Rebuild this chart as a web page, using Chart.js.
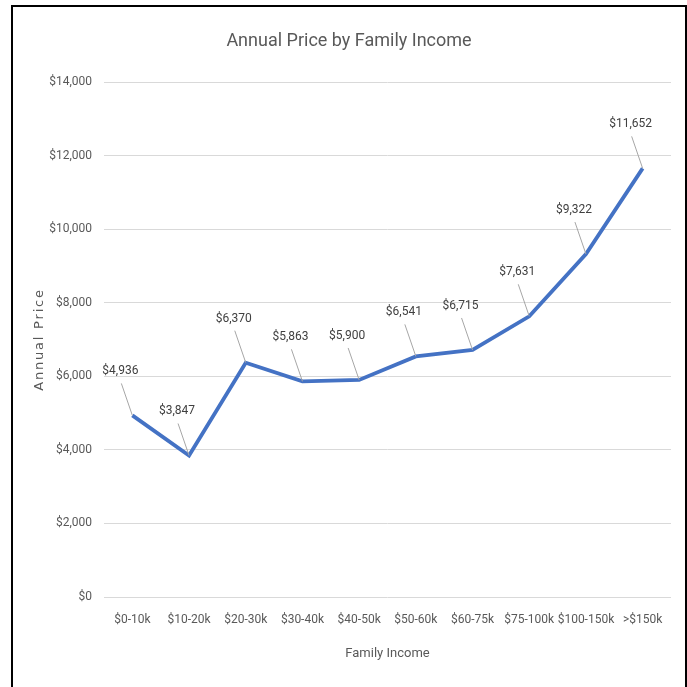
<!DOCTYPE html>
<html>
<head>
<meta charset="utf-8">
<script src="https://cdn.jsdelivr.net/npm/chart.js@4.4.1/dist/chart.umd.min.js"></script>
<style>
  html, body { margin: 0; padding: 0; background: #ffffff; }
  #frame {
    position: absolute; left: 11px; top: 5px;
    width: 672px; height: 682px;
    border: 2px solid #000; border-bottom: none;
    background: #fff;
  }
  #wrap { position: absolute; left: 0; top: 0; width: 672px; height: 680px; }
</style>
</head>
<body>
<div id="frame"><div id="wrap"><canvas id="c"></canvas></div></div>
<script>
const categories = ["$0-10k", "$10-20k", "$20-30k", "$30-40k", "$40-50k", "$50-60k", "$60-75k", "$75-100k", "$100-150k", ">$150k"];
const annualPrice = [4936, 3847, 6370, 5863, 5900, 6541, 6715, 7631, 9322, 11652];
const yTicks = [0, 2000, 4000, 6000, 8000, 10000, 12000, 14000];
const chartTitle = 'Annual Price by Family Income';

const narrow = "'Liberation Sans Narrow', 'Roboto', sans-serif";
const fmt = v => '$' + Number(v).toLocaleString('en-US');

const labelPlugin = {
  id: 'leaderLabels',
  afterDatasetsDraw(chart) {
    const ctx = chart.ctx;
    const meta = chart.getDatasetMeta(0);
    const data = chart.data.datasets[0].data;
    ctx.save();
    meta.data.forEach((pt, i) => {
      const lx = pt.x - 12, ly = pt.y - 44;
      ctx.strokeStyle = '#a6a6a6';
      ctx.lineWidth = 1;
      ctx.beginPath();
      ctx.moveTo(lx + 1, ly + 12);
      ctx.lineTo(pt.x, pt.y);
      ctx.stroke();
      ctx.fillStyle = '#404040';
      ctx.font = "12px " + narrow;
      ctx.textAlign = 'center';
      ctx.textBaseline = 'middle';
      ctx.fillText(fmt(data[i]), lx, ly);
    });
    ctx.restore();
  },
  afterDraw(chart) {
    const ctx = chart.ctx;
    const a = chart.chartArea;
    ctx.save();
    ctx.fillStyle = '#595959';
    ctx.textAlign = 'center';
    ctx.textBaseline = 'middle';
    ctx.font = "18px " + narrow;
    ctx.fillText(chartTitle, chart.width / 2, 34);
    ctx.translate(27, (a.top + a.bottom) / 2);
    ctx.rotate(-Math.PI / 2);
    ctx.font = "13px 'DejaVu Sans', sans-serif";
    try { ctx.letterSpacing = '1.8px'; } catch (e) {}
    ctx.fillText('Annual Price', 0, 0);
    ctx.restore();
  }
};

new Chart(document.getElementById('c'), {
  type: 'line',
  data: {
    labels: categories,
    datasets: [{
      label: 'Annual Price',
      data: annualPrice,
      borderColor: '#4472C4',
      borderWidth: 3.8,
      pointRadius: 0,
      tension: 0,
      fill: false
    }]
  },
  options: {
    responsive: true,
    maintainAspectRatio: false,
    animation: false,
    layout: { padding: { left: 0, right: 14, top: 75, bottom: 0 } },
    plugins: {
      legend: { display: false },
      tooltip: { enabled: false },
      title: { display: false }
    },
    scales: {
      x: {
        type: 'category',
        offset: true,
        grid: { display: false, drawTicks: false },
        border: { display: false },
        ticks: { color: '#595959', font: { family: narrow, size: 12 }, padding: 15.8, maxRotation: 0, autoSkip: false },
        title: { display: true, text: 'Family Income', color: '#595959', font: { family: narrow, size: 13 }, padding: { top: 0, bottom: 25.2 } },
        afterFit(scale) { scale.height = 90; }
      },
      y: {
        min: 0, max: 14000,
        afterBuildTicks(scale) { scale.ticks = yTicks.map(v => ({ value: v })); },
        grid: { color: '#d9d9d9', lineWidth: 1, drawTicks: false },
        border: { display: false },
        ticks: { color: '#595959', font: { family: narrow, size: 12 }, padding: 12, callback: v => fmt(v) },
        afterFit(scale) { scale.width = 91; }
      }
    }
  },
  plugins: [labelPlugin]
});
</script>
</body>
</html>
